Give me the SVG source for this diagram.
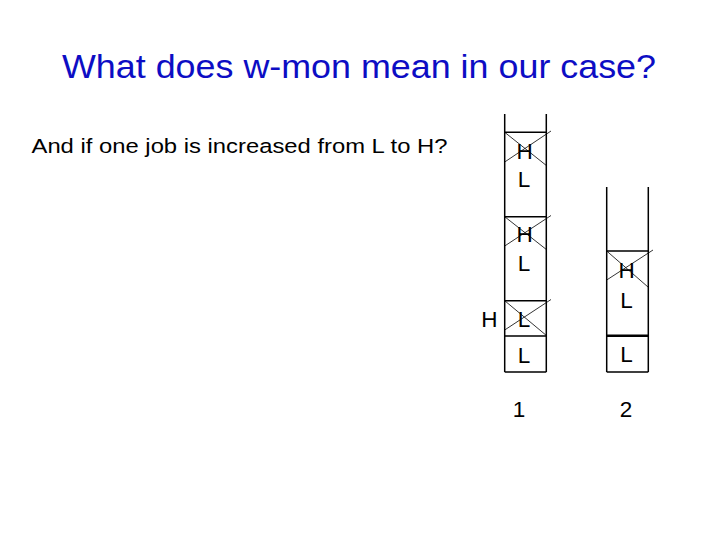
<svg xmlns="http://www.w3.org/2000/svg" width="720" height="540" viewBox="0 0 720 540">
<style>
.t{font-family:"Liberation Sans",Arial,sans-serif;fill:#000;font-size:22.5px;text-anchor:middle}
.ln{stroke:#000;stroke-width:1.5;fill:none}
.x{stroke:#000;stroke-width:0.8;fill:none}
</style>
<rect width="720" height="540" fill="#fff"/>
<text x="62" y="77.5" textLength="594" lengthAdjust="spacingAndGlyphs" style="font-family:'Liberation Sans',Arial,sans-serif;font-size:33.5px;fill:#0d0dc4">What does w-mon mean in our case?</text>
<text x="31.5" y="152.5" textLength="416" lengthAdjust="spacingAndGlyphs" style="font-family:'Liberation Sans',Arial,sans-serif;font-size:20.5px;fill:#000">And if one job is increased from L to H?</text>
<g id="column1">
<path class="ln" d="M504.7,114 V372 M546.3,114 V372 M504.7,132.3 H546.3 M504.7,216.7 H546.3 M504.7,300.7 H546.3 M504.7,336 H546.3 M504.7,372 H546.3"/>
<path class="x" d="M504.7,132.3 L547,166 M504.7,162 L551,131 M504.7,216.7 L547,250 M504.7,246 L551,215.5 M504.7,300.7 L547,336 M504.7,330 L551,299.5"/>
<text class="t" x="524.5" y="158.5">H</text>
<text class="t" x="524" y="187">L</text>
<text class="t" x="524.5" y="242">H</text>
<text class="t" x="524" y="271">L</text>
<text class="t" x="489.3" y="327">H</text>
<text class="t" x="524" y="327">L</text>
<text class="t" x="524" y="362.5">L</text>
<text class="t" x="519" y="417">1</text>
</g>
<g id="column2">
<path class="ln" d="M606.7,187 V372 M648.3,187 V372 M606.7,251 H648.3 M606.7,372 H648.3"/>
<path d="M606.7,335.7 H648.3" stroke="#000" stroke-width="2.5"/>
<path class="x" d="M606.7,251 L648,287 M606.7,280 L653,250"/>
<text class="t" x="626.7" y="277.5">H</text>
<text class="t" x="626.5" y="308">L</text>
<text class="t" x="626.5" y="362">L</text>
<text class="t" x="626" y="417">2</text>
</g>
</svg>
